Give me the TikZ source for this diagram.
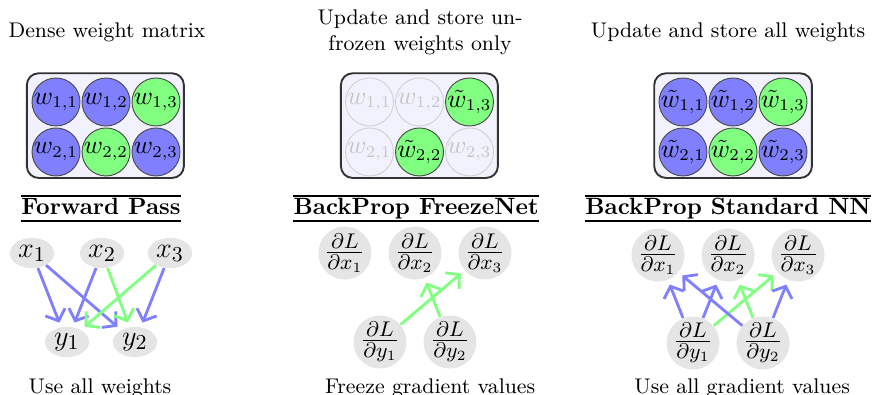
\documentclass[tikz,border=0pt]{standalone}
\usetikzlibrary{arrows.meta,shapes.geometric}
\tikzset{
  wbox/.style={draw=black!80, fill=blue!5, rounded corners=5pt, thick},
  wcirc/.style={circle, draw=black!70, minimum size=0.715cm, inner sep=-3pt, font=\fontsize{10.5}{12}\selectfont},
  bluew/.style={wcirc, fill=blue!50},
  greenw/.style={wcirc, fill=green!50},
  frozenw/.style={wcirc, draw=gray!35, text=gray!45},
  caption/.style={font=\small, anchor=base},
  head/.style={font=\bfseries, inner xsep=0pt, inner ysep=0.6pt, text height=7pt, text depth=2pt},
  xnode/.style={ellipse, fill=gray!20, minimum width=0.66cm, minimum height=0.45cm, inner sep=0pt, font=\fontsize{13}{15}\selectfont},
  gnode/.style={circle, fill=gray!20, minimum size=0.79cm, inner sep=-2pt, font=\fontsize{13}{15}\selectfont},
  bluearr/.style={very thick, blue!50, -{Straight Barb[length=4pt,width=9pt]}, shorten >=2pt},
  greenarr/.style={very thick, green!50, -{Straight Barb[length=4pt,width=9pt]}, shorten >=2pt}
}
\begin{document}
\begin{tikzpicture}
  \useasboundingbox (0,0) rectangle (13.055,5.872);

  % Titles
  \node[caption] (t1) at (1.595,5.32) {Dense weight matrix};
  \node[caption, align=center] (t2) at (6.26,5.126) {Update and store un-\\frozen weights only};
  \node[caption] (t3) at (10.85,5.32) {Update and store all weights};

  % Dense weight matrix
  \draw[wbox] (0.40,3.22) rectangle (2.74,4.78);
  \foreach \i/\j/\s in {1/1/bluew,1/2/bluew,1/3/greenw,2/1/bluew,2/2/greenw,2/3/bluew}
    \node[\s] (a\i\j) at (0.09+\j*0.745, 5.097-\i*0.745) {$w_{\i,\j}$};

  % FreezeNet weights (only unfrozen ones updated)
  \draw[wbox] (5.08,3.22) rectangle (7.42,4.78);
  \foreach \i/\j in {1/1,1/2,2/1,2/3}
    \node[frozenw] (b\i\j) at (4.762+\j*0.745, 5.097-\i*0.745) {$w_{\i,\j}$};
  \foreach \i/\j in {1/3,2/2}
    \node[greenw] (b\i\j) at (4.762+\j*0.745, 5.097-\i*0.745) {$\tilde{w}_{\i,\j}$};

  % Standard NN weights
  \draw[wbox] (9.75,3.22) rectangle (12.10,4.78);
  \foreach \i/\j/\s in {1/1/bluew,1/2/bluew,1/3/greenw,2/1/bluew,2/2/greenw,2/3/bluew}
    \node[\s] (c\i\j) at (9.434+\j*0.745, 5.097-\i*0.745) {$\tilde{w}_{\i,\j}$};

  % Headers with rules
  \node[head] (h1) at (1.505,2.765) {Forward Pass};
  \node[head] (h2) at (6.20,2.765) {BackProp FreezeNet};
  \node[head] (h3) at (10.85,2.765) {BackProp Standard NN};
  \foreach \h in {h1,h2,h3} {
    \draw[line width=0.6pt] (\h.north west) -- (\h.north east);
    \draw[line width=0.5pt] (\h.south west) -- (\h.south east);
  }

  % Forward pass
  \foreach \k/\x in {1/0.477,2/1.520,3/2.534}
    \node[xnode] (x\k) at (\x,2.101) {$x_\k$};
  \node[xnode] (y1) at (0.998,0.775) {$y_1$};
  \node[xnode] (y2) at (2.012,0.775) {$y_2$};
  \draw[bluearr] (x1) -- (y1);
  \draw[bluearr] (x1) -- (y2);
  \draw[bluearr] (x2) -- (y1);
  \draw[bluearr] (x3) -- (y2);
  \draw[greenarr] (x2) -- (y2);
  \draw[greenarr] (x3) -- (y1);

  % BackProp FreezeNet
  \foreach \k/\x in {1/5.14,2/6.185,3/7.228}
    \node[gnode] (fx\k) at (\x,2.101) {$\frac{\partial L}{\partial x_\k}$};
  \node[gnode] (fy1) at (5.663,0.775) {$\frac{\partial L}{\partial y_1}$};
  \node[gnode] (fy2) at (6.706,0.775) {$\frac{\partial L}{\partial y_2}$};
  \draw[greenarr] (fy1) -- (fx3);
  \draw[greenarr] (fy2) -- (fx2);

  % BackProp Standard NN
  \foreach \k/\x in {1/9.806,2/10.85,3/11.893}
    \node[gnode] (sx\k) at (\x,2.07) {$\frac{\partial L}{\partial x_\k}$};
  \node[gnode] (sy1) at (10.328,0.76) {$\frac{\partial L}{\partial y_1}$};
  \node[gnode] (sy2) at (11.371,0.76) {$\frac{\partial L}{\partial y_2}$};
  \draw[greenarr] (sy1) -- (sx3);
  \draw[greenarr] (sy2) -- (sx2);
  \draw[bluearr] (sy1) -- (sx1);
  \draw[bluearr] (sy1) -- (sx2);
  \draw[bluearr] (sy2) -- (sx1);
  \draw[bluearr] (sy2) -- (sx3);

  % Bottom captions
  \node[caption] (u1) at (1.49,0.01) {Use all weights};
  \node[caption] (u2) at (6.41,0.01) {Freeze gradient values};
  \node[caption] (u3) at (11.06,0.01) {Use all gradient values};
\end{tikzpicture}
\end{document}
